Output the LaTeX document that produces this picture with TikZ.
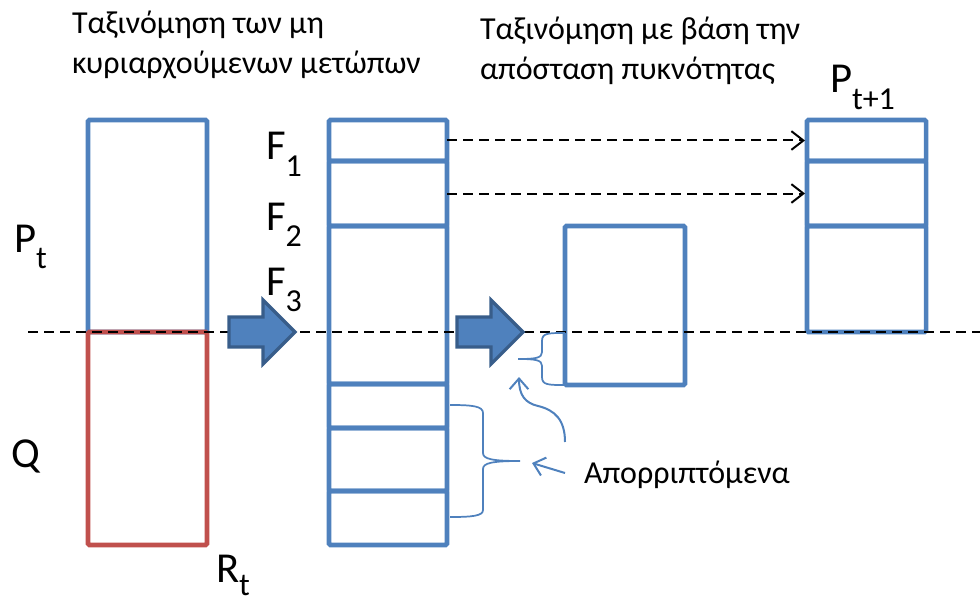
\documentclass[tikz,border=0pt]{standalone}
\usepackage{fontspec}
\setmainfont{Carlito}
\usetikzlibrary{arrows.meta,fit}

\definecolor{boxblue}{HTML}{4F81BD}
\definecolor{boxred}{HTML}{C0504D}
\definecolor{arrowedge}{HTML}{385D8A}

\newcommand\txtfont{\fontsize{24}{30}\selectfont}
% big letter with a lowered index
\newcommand\sublbl[3][12.5pt]{{\fontsize{32}{32}\selectfont #2}\raisebox{-#1}[\height][0pt]{\fontsize{24}{24}\selectfont #3}}

\begin{document}
\begin{tikzpicture}[x=0.75pt,y=-0.75pt,
  every node/.style={inner sep=0pt,outer sep=0pt},
  cell/.style={draw=boxblue,line width=3.4pt,rounded corners=1pt,inner sep=0pt},
  redcell/.style={cell,draw=boxred},
  lbl/.style={anchor=base west,font=\txtfont},
  midline/.style={black,line width=1.7pt,dash pattern=on 7.5pt off 4.5pt},
  dasharrow/.style={black,line width=1.5pt,dash pattern=on 7.5pt off 4.5pt,
    -{Straight Barb[length=9pt,width=14pt,line width=1.5pt]}},
  blockarrow/.style={fill=boxblue,draw=arrowedge,line width=2.4pt,line join=miter},
  bracepath/.style={boxblue,line width=1.3pt},
  thinarrow/.style={boxblue,line width=1.5pt,
    -{Straight Barb[length=8pt,width=14pt,line width=1.5pt]}}]

\useasboundingbox (0,0) rectangle (980,606);

% headings
\node[lbl] (h1a) at (72,34) {Ταξινόμηση των μη};
\node[lbl] (h1b) at (72,74) {κυριαρχούμενων μετώπων};
\node[lbl] (h2a) at (480,40) {Ταξινόμηση με βάση την};
\node[lbl] (h2b) at (480,80) {απόσταση πυκνότητας};

% population P_t and offspring Q
\node[cell,fit={(88,120)(207,332)}] (pt) {};
\node[redcell,fit={(88,332)(207,545)}] (q) {};

% fronts after non-dominated sorting
\node[cell,fit={(329,120)(447,161)}] (m1) {};
\node[cell,fit={(329,161)(447,226)}] (m2) {};
\node[cell,fit={(329,226)(447,384)}] (m3) {};
\node[cell,fit={(329,384)(447,428)}] (m4) {};
\node[cell,fit={(329,428)(447,491)}] (m5) {};
\node[cell,fit={(329,491)(447,545)}] (m6) {};

% crowding-distance sorted front
\node[cell,fit={(565,226)(685,385)}] (f3) {};

% next population
\node[cell,fit={(807,120)(926,161)}] (r1) {};
\node[cell,fit={(807,161)(926,226)}] (r2) {};
\node[cell,fit={(807,226)(926,332)}] (r3) {};

% labels
\node[anchor=base west] (lp) at (14,252) {\sublbl{P}{t}};
\node[anchor=base west,font=\fontsize{32}{32}\selectfont] (lq) at (12,467) {Q};
\node[anchor=base west] (lr) at (216,582) {\sublbl[10pt]{R}{t}};
\node[anchor=base west] (lf1) at (266,160) {\sublbl{F}{1}};
\node[anchor=base west] (lf2) at (266,230) {\sublbl{F}{2}};
\node[anchor=base west] (lf3) at (266,295) {\sublbl{F}{3}};
\node[anchor=base west] (lpn) at (830,93) {\sublbl{P}{t+1}};
\node[lbl] (rej) at (584,483) {Απορριπτόμενα};

% population size limit
\coordinate (ml) at (28,332);
\coordinate (mr) at (980,332);
\draw[midline] (ml) -- (mr);

% copied fronts
\draw[dasharrow,shorten >=1.5pt] (m1.east) -- (r1.west);
\draw[dasharrow,shorten >=1.5pt] (m2.east) -- (r2.west);

% block arrows
\draw[blockarrow] (229,317) -- (263,317) -- (263,300) -- (295,332)
  -- (263,364) -- (263,347) -- (229,347) -- cycle;
\draw[blockarrow] (457,317) -- (491,317) -- (491,300) -- (523,332)
  -- (491,364) -- (491,347) -- (457,347) -- cycle;

% braces marking the discarded parts
\coordinate (b1) at (518,359);
\coordinate (b2) at (520,461);
\draw[bracepath] (565,333) .. controls (548,333) and (542,333) .. (542,341)
  -- (542,352) .. controls (542,358) and (536,359) .. (b1)
  .. controls (536,359) and (542,360) .. (542,366)
  -- (542,377) .. controls (542,385) and (548,385) .. (565,385);
\draw[bracepath] (450,405) .. controls (472,405) and (483,406) .. (483,413)
  -- (483,453) .. controls (483,459) and (492,461) .. (b2)
  .. controls (492,461) and (483,463) .. (483,469)
  -- (483,510) .. controls (483,516) and (472,517) .. (450,517);

% pointers from the caption
\coordinate (s1) at (565,473);
\coordinate (e1) at (532,463);
\coordinate (s2) at (565,442);
\coordinate (e2) at (519,377);
\draw[thinarrow] (s1) -- (e1);
\draw[thinarrow] (s2) .. controls (565,420) and (555,410) .. (538,406)
  .. controls (525,403) and (519,395) .. (e2);

\end{tikzpicture}
\end{document}
